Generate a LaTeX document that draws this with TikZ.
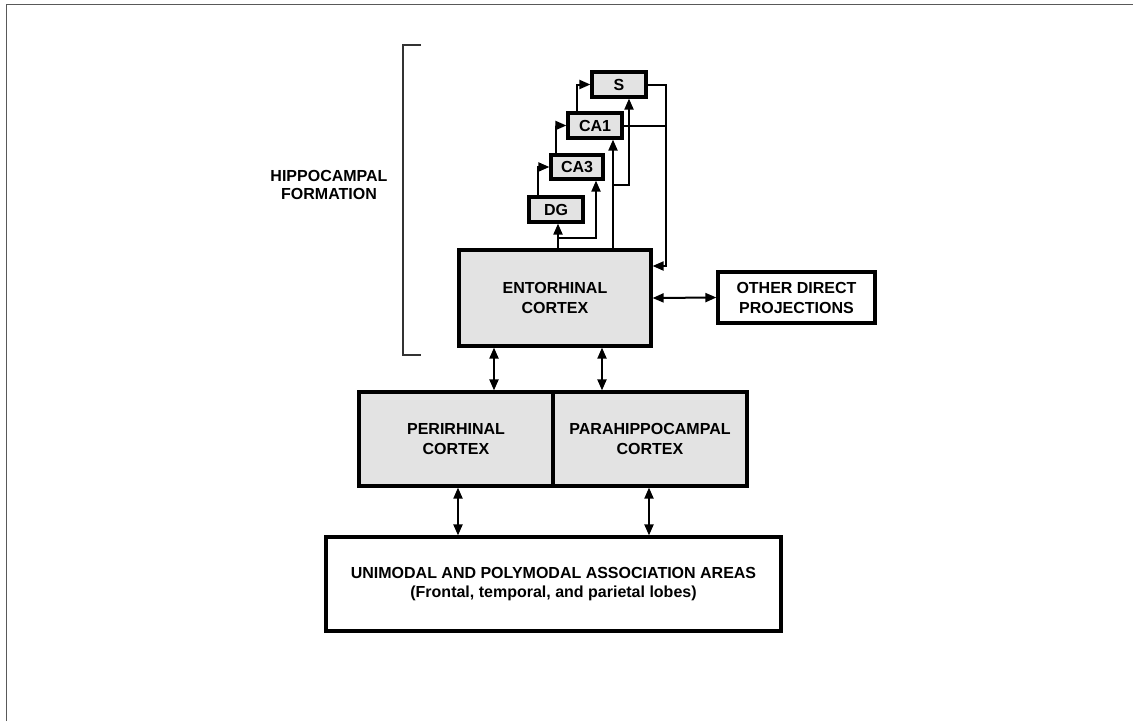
\documentclass[tikz,border=0pt]{standalone}
\usepackage{fontspec}
\setmainfont{Liberation Sans}
\usetikzlibrary{arrows.meta}
\tikzset{
  shaded/.style={draw=black, line width=3.2pt, fill=black!11, inner sep=0pt, align=center, font=\fontsize{16}{20}\selectfont\bfseries},
  plain/.style={draw=black, line width=3.2pt, fill=white, inner sep=0pt, align=center, font=\fontsize{16}{20}\selectfont\bfseries},
  conn/.style={draw=black, line width=2pt},
  arr/.style={conn, -{Triangle[length=11pt,width=9pt]}},
  darr/.style={conn, {Triangle[length=11pt,width=9pt]}-{Triangle[length=11pt,width=9pt]}},
  frameline/.style={draw=black!65, line width=1.6pt},
  label/.style={align=center, font=\fontsize{16}{18}\selectfont\bfseries}
}
\begin{document}
\begin{tikzpicture}[x=1pt,y=-1pt]
\useasboundingbox (0,0) rectangle (1133,721);
% partial outer frame
\draw[frameline] (6.5,721) -- (6.5,4.5) -- (1133,4.5);
% bracket
\draw[frameline, black!80] (421,45) -- (403,45) -- (403,355) -- (421,355);
\node[label] (hf) at (329,185) {HIPPOCAMPAL\\FORMATION};

% boxes
\node[shaded, minimum width=54pt, minimum height=25pt] (S) at (619,84.5) {S};
\node[shaded, minimum width=54pt, minimum height=25pt] (CA1) at (595,125.5) {CA1};
\node[shaded, minimum width=52pt, minimum height=24pt] (CA3) at (577,167) {CA3};
\node[shaded, minimum width=54pt, minimum height=25pt] (DG) at (556,209.5) {DG};
\node[shaded, minimum width=192pt, minimum height=96pt] (EC) at (555,298) {ENTORHINAL\\CORTEX};
\node[plain, minimum width=157pt, minimum height=51pt] (OD) at (796.5,297.5) {OTHER DIRECT\\PROJECTIONS};
\node[shaded, minimum width=194pt, minimum height=94pt] (PR) at (456,439) {PERIRHINAL\\CORTEX};
\node[shaded, minimum width=194pt, minimum height=94pt] (PH) at (650,439) {PARAHIPPOCAMPAL\\CORTEX};
\node[plain, minimum width=455pt, minimum height=94pt, font=\fontsize{16}{19}\selectfont\bfseries] (UA) at (553.5,584) {UNIMODAL AND POLYMODAL ASSOCIATION AREAS\\(Frontal, temporal, and parietal lobes)};

% hippocampal circuit
\draw[arr] ([xshift=-18pt]DG.north) |- (CA3.west);
\draw[arr] ([xshift=-21pt]CA3.north) |- (CA1.west);
\draw[arr] ([xshift=-18pt]CA1.north) |- (S.west);

\coordinate (dgin) at ([xshift=2pt]DG.south);
\coordinate (ca3in) at ([xshift=19pt]CA3.south);
\coordinate (ca1in) at ([xshift=18pt]CA1.south);
\coordinate (sin) at ([xshift=10pt]S.south);
\coordinate (br1) at (dgin |- 0,238);
\coordinate (br2) at (ca1in |- 0,185);
\coordinate (ecret) at (EC.east |- 0,266);
\coordinate (colx) at (666,0);

\draw[arr] (EC.north -| dgin) -- (dgin);
\draw[arr] (br1) -| (ca3in);
\draw[arr] (EC.north -| ca1in) -- (ca1in);
\draw[arr] (br2) -| (sin);
\draw[arr] (S.east) -| (colx |- ecret) -- (ecret);
\draw[conn] (CA1.east) -- (CA1.east -| colx);

% other connections
\draw[darr] (EC.east) -- (OD.west);
\draw[darr] (EC.south -| 494,0) -- (PR.north -| 494,0);
\draw[darr] (EC.south -| 602,0) -- (PH.north -| 602,0);
\draw[darr] (PR.south -| 458,0) -- (UA.north -| 458,0);
\draw[darr] (PH.south -| 649,0) -- (UA.north -| 649,0);
\end{tikzpicture}
\end{document}
